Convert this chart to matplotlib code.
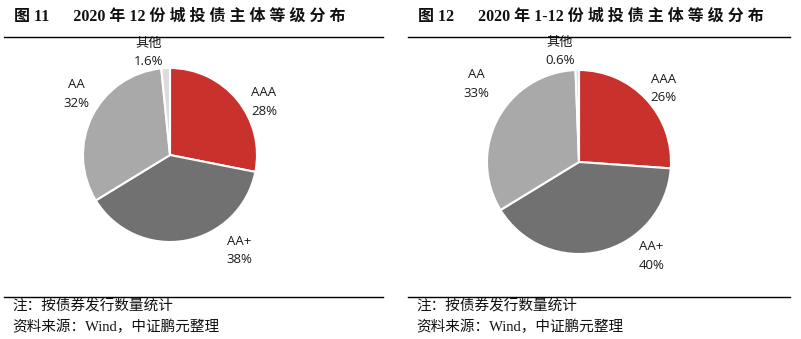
import matplotlib
matplotlib.use("Agg")
import matplotlib.pyplot as plt
from matplotlib.lines import Line2D

# Rating distribution of city-investment bond issuers (share of issue count, %)
categories = ["AAA", "AA+", "AA", "其他"]
dec_values = [28, 38, 32, 1.6]
ytd_values = [26, 40, 33, 0.6]
dec_labels = ["28%", "38%", "32%", "1.6%"]
ytd_labels = ["26%", "40%", "33%", "0.6%"]

titles = ["图 11      2020 年 12 份 城 投 债 主 体 等 级 分 布",
          "图 12      2020 年 1-12 份 城 投 债 主 体 等 级 分 布"]
note = "注：按债券发行数量统计"
source = "资料来源：Wind，中证鹏元整理"

colors = ["#C9322C", "#717171", "#A9A9A9", "#DCDCDC"]

W, H = 801, 339
fig = plt.figure(figsize=(W / 100, H / 100), dpi=100)
fig.patch.set_facecolor("white")

title_font = ["Liberation Serif", "Noto Sans CJK SC"]
note_font = ["Liberation Serif", "Noto Sans CJK SC"]
label_font = ["Open Sans", "Noto Sans CJK SC"]

HALF = 1.5


def px_axes(cx, cy, r):
    """Square axes centred at pixel (cx, cy) where one data unit = r pixels."""
    side = 2 * HALF * r
    ax = fig.add_axes([(cx - side / 2) / W, (H - cy - side / 2) / H, side / W, side / H])
    return ax


panels = [
    dict(values=dec_values, labels=dec_labels, cx=170, cy=155, r=87,
         pos=[(1.08, 0.61), (0.80, -1.10), (-1.08, 0.70), (-0.25, 1.18)]),
    dict(values=ytd_values, labels=ytd_labels, cx=579, cy=162, r=92,
         pos=[(0.92, 0.80), (0.79, -1.02), (-1.12, 0.85), (-0.21, 1.20)]),
]

for p in panels:
    ax = px_axes(p["cx"], p["cy"], p["r"])
    ax.pie(p["values"], colors=colors, startangle=90, counterclock=False,
           radius=1.0, wedgeprops=dict(edgecolor="white", linewidth=1.5))
    ax.set_xlim(-HALF, HALF)
    ax.set_ylim(-HALF, HALF)
    ax.set_aspect("equal")
    ax.axis("off")
    for cat, lab, (x, y) in zip(categories, p["labels"], p["pos"]):
        ax.text(x, y, f"{cat}\n{lab}", ha="center", va="center",
                fontsize=9.5, family=label_font, color="#1a1a1a", linespacing=1.55)

# Titles, rules and footnotes for each panel
overlay = fig.add_axes([0, 0, 1, 1])
overlay.set_xlim(0, W)
overlay.set_ylim(H, 0)
overlay.axis("off")

for x0, x1, tx, title in [(4, 383, 14, titles[0]), (408, 790, 418, titles[1])]:
    overlay.text(tx, 17, title, fontsize=11.5, fontweight="bold", family=title_font,
                 ha="left", va="center", color="#111111")
    overlay.add_line(Line2D([x0, x1], [37, 37], color="black", linewidth=1.0))
    overlay.add_line(Line2D([x0, x1], [297, 297], color="black", linewidth=1.0))
    overlay.text(tx - 2, 306, note, fontsize=10.5, family=note_font,
                 ha="left", va="center", color="#111111")
    overlay.text(tx - 2, 327, source, fontsize=10.5, family=note_font,
                 ha="left", va="center", color="#111111")

fig.savefig("out.png", dpi=100, facecolor="white")
